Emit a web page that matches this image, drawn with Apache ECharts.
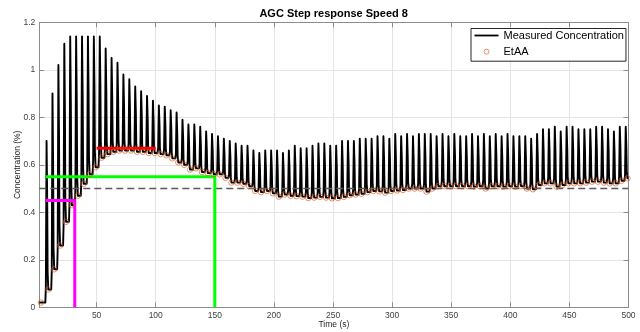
<!DOCTYPE html>
<html><head><meta charset="utf-8">
<script src="https://cdn.jsdelivr.net/npm/echarts@6/dist/echarts.min.js"></script>
<style>html,body{margin:0;padding:0;background:#fff}#c{width:640px;height:332px}</style>
</head><body><div id="c"></div>
<script>
// ---- data ----
const xTickValues = [50, 100, 150, 200, 250, 300, 350, 400, 450, 500];
const xRange = [1.5, 500];
const yRange = [0, 1.2];
const startValue = 0.02;          // concentration before the first breath
const startMarker = [2.9, 0.02];  // first EtAA marker
const firstPeakTime = 7.8;        // s
const breathPeriod = 5;           // s
const peakValues = [
  0.70, 0.90, 1.02, 1.11, 1.14, 1.14, 1.14, 1.14, 1.14, 1.14,
  1.09, 1.05, 1.03, 0.98, 0.96, 0.93, 0.91, 0.89, 0.87, 0.85,
  0.845, 0.83, 0.82, 0.79, 0.77, 0.77, 0.76, 0.74, 0.73, 0.72,
  0.71, 0.70, 0.69, 0.68, 0.68, 0.66, 0.65, 0.66, 0.66, 0.66,
  0.65, 0.66, 0.68, 0.67, 0.67, 0.68, 0.69, 0.69, 0.68, 0.68,
  0.70, 0.70, 0.70, 0.71, 0.71, 0.71, 0.72, 0.72, 0.71, 0.73,
  0.72, 0.73, 0.72, 0.73, 0.73, 0.73, 0.72, 0.73, 0.72, 0.73,
  0.72, 0.72, 0.73, 0.72, 0.73, 0.72, 0.73, 0.72, 0.73, 0.72,
  0.72, 0.72, 0.71, 0.73, 0.75, 0.75, 0.76, 0.74, 0.76, 0.76,
  0.75, 0.75, 0.75, 0.76, 0.76, 0.75, 0.74, 0.76, 0.76
];
const etaaValues = [
  0.075, 0.16, 0.26, 0.36, 0.43, 0.47, 0.52, 0.56, 0.59, 0.63,
  0.645, 0.655, 0.66, 0.66, 0.66, 0.655, 0.655, 0.65, 0.65, 0.645,
  0.64, 0.627, 0.61, 0.60, 0.58, 0.585, 0.57, 0.565, 0.56, 0.56,
  0.545, 0.525, 0.525, 0.52, 0.51, 0.49, 0.485, 0.49, 0.48, 0.466,
  0.475, 0.47, 0.468, 0.466, 0.46, 0.462, 0.465, 0.462, 0.459, 0.46,
  0.465, 0.472, 0.475, 0.478, 0.485, 0.49, 0.488, 0.483, 0.49, 0.492,
  0.494, 0.50, 0.50, 0.50, 0.487, 0.50, 0.51, 0.51, 0.51, 0.51,
  0.51, 0.51, 0.508, 0.51, 0.50, 0.51, 0.51, 0.508, 0.51, 0.508,
  0.51, 0.50, 0.497, 0.515, 0.522, 0.522, 0.508, 0.515, 0.522, 0.522,
  0.522, 0.525, 0.529, 0.529, 0.525, 0.522, 0.522, 0.533, 0.543
];
const targetLine = 0.5;
const magentaMark = [[6.9, 0.45], [31.5, 0.45], [31.5, 0]];
const greenMark = [[6.9, 0.55], [150, 0.55], [150, 0]];
const redMark = [[50, 0.67], [100, 0.67]];

// ---- build waveform from per-breath values (peak and end-tidal of each breath) ----
const wave = [[xRange[0], startValue]];
const etaaPts = [startMarker];
let prev = startValue;
for (let k = 0; k < peakValues.length; k++) {
  const p = firstPeakTime + k * breathPeriod, P = peakValues[k], E = etaaValues[k];
  const up = P - prev, dn = P - E;
  wave.push([p - 1.2, prev]);
  wave.push([p - 0.75, prev + 0.1 * up]);
  wave.push([p - 0.4, prev + 0.65 * up]);
  wave.push([p - 0.15, P]);
  wave.push([p + 0.15, P]);
  wave.push([p + 0.4, E + 0.6 * dn]);
  wave.push([p + 0.75, E + 0.12 * dn]);
  wave.push([p + 1.3, E]);
  etaaPts.push([p + 1.3, E]);
  prev = E;
}
wave.push([xRange[1], prev]);

const FONT = 'Liberation Sans, Arial, Helvetica, sans-serif';
const AX = '#8c8c8c';
const chart = echarts.init(document.getElementById('c'), null, {renderer: 'canvas'});
chart.setOption({
  animation: false,
  backgroundColor: '#fff',
  textStyle: {fontFamily: FONT},
  title: {
    text: 'AGC Step response Speed 8', left: 333.7, top: 8, padding: 0, textAlign: 'center',
    textStyle: {fontSize: 11, fontWeight: 'bold', color: '#000', fontFamily: FONT}
  },
  grid: {left: 39.3, right: 11.5, top: 22.3, bottom: 24.7, containLabel: false, outerBoundsMode: 'none'},
  legend: {
    orient: 'vertical', left: 471, top: 28.5, padding: [1, 2, 1, 1],
    itemWidth: 24, itemHeight: 12, itemGap: 1.7,
    backgroundColor: '#fff', borderColor: '#262626', borderWidth: 1, borderRadius: 0,
    textStyle: {fontSize: 11, color: '#000', fontFamily: FONT, lineHeight: 12},
    data: [
      {name: 'Measured Concentration', icon: 'path://M0,0M24,12M0,5.1L24,5.1L24,6.9L0,6.9Z',
       itemStyle: {color: '#000', borderWidth: 0}},
      {name: 'EtAA', icon: 'path://M0,0M24,12M14.5,6A2.5,2.5,0,1,1,9.5,6A2.5,2.5,0,1,1,14.5,6Z',
       itemStyle: {color: 'none', borderColor: '#D95319', borderWidth: 0.8}}
    ]
  },
  xAxis: [{
    type: 'value', min: xRange[0], max: xRange[1],
    name: 'Time (s)', nameLocation: 'middle', nameGap: 13, nameMoveOverlap: false,
    nameTextStyle: {fontSize: 8.5, color: '#262626', fontFamily: FONT},
    axisLine: {show: true, onZero: false, lineStyle: {color: AX, width: 1}},
    axisTick: {show: true, inside: true, length: 5, customValues: xTickValues, lineStyle: {color: AX}},
    axisLabel: {customValues: xTickValues, fontSize: 8.5, color: '#404040', margin: 4, fontFamily: FONT},
    splitLine: {show: true, lineStyle: {color: '#e4e4e4', width: 1}}
  }, {
    type: 'value', position: 'top', min: xRange[0], max: xRange[1],
    axisLine: {show: true, onZero: false, lineStyle: {color: AX, width: 1}},
    axisTick: {show: true, inside: true, length: 5, customValues: xTickValues, lineStyle: {color: AX}},
    axisLabel: {show: false}, splitLine: {show: false}
  }],
  yAxis: [{
    type: 'value', min: yRange[0], max: yRange[1], interval: 0.2,
    name: 'Concentration (%)', nameLocation: 'middle', nameGap: 17, nameRotate: 90, nameMoveOverlap: false,
    nameTextStyle: {fontSize: 8.5, color: '#262626', fontFamily: FONT},
    axisLine: {show: true, onZero: false, lineStyle: {color: AX, width: 1}},
    axisTick: {show: true, inside: true, length: 5, lineStyle: {color: AX}},
    axisLabel: {fontSize: 8.5, color: '#404040', margin: 4, fontFamily: FONT},
    splitLine: {show: true, lineStyle: {color: '#e4e4e4', width: 1}}
  }, {
    type: 'value', position: 'right', min: yRange[0], max: yRange[1], interval: 0.2,
    axisLine: {show: true, onZero: false, lineStyle: {color: AX, width: 1}},
    axisTick: {show: true, inside: true, length: 5, lineStyle: {color: AX}},
    axisLabel: {show: false}, splitLine: {show: false}
  }],
  series: [
    {name: 'Measured Concentration', type: 'line', data: wave, symbol: 'none', showSymbol: false,
     lineStyle: {color: '#000', width: 1.9, join: 'round'}, itemStyle: {color: '#000'}, z: 2, silent: true},
    {name: 'target', type: 'line', data: [[xRange[0], targetLine], [xRange[1], targetLine]], symbol: 'none',
     lineStyle: {color: '#5a5a5a', width: 1.4, type: [7, 4]}, z: 3, silent: true},
    {name: 'magenta', type: 'line', data: magentaMark, symbol: 'none',
     lineStyle: {color: '#ff00ff', width: 3, join: 'miter'}, z: 4, silent: true},
    {name: 'green', type: 'line', data: greenMark, symbol: 'none',
     lineStyle: {color: '#00ff00', width: 3, join: 'miter'}, z: 4, silent: true},
    {name: 'red', type: 'line', data: redMark, symbol: 'none',
     lineStyle: {color: '#ff0000', width: 3}, z: 4, silent: true},
    {name: 'EtAA', type: 'scatter', data: etaaPts, symbol: 'circle', symbolSize: 5.5,
     itemStyle: {color: 'rgba(0,0,0,0)', borderColor: '#D95319', borderWidth: 0.8}, z: 5, silent: true}
  ]
});
</script></body></html>
